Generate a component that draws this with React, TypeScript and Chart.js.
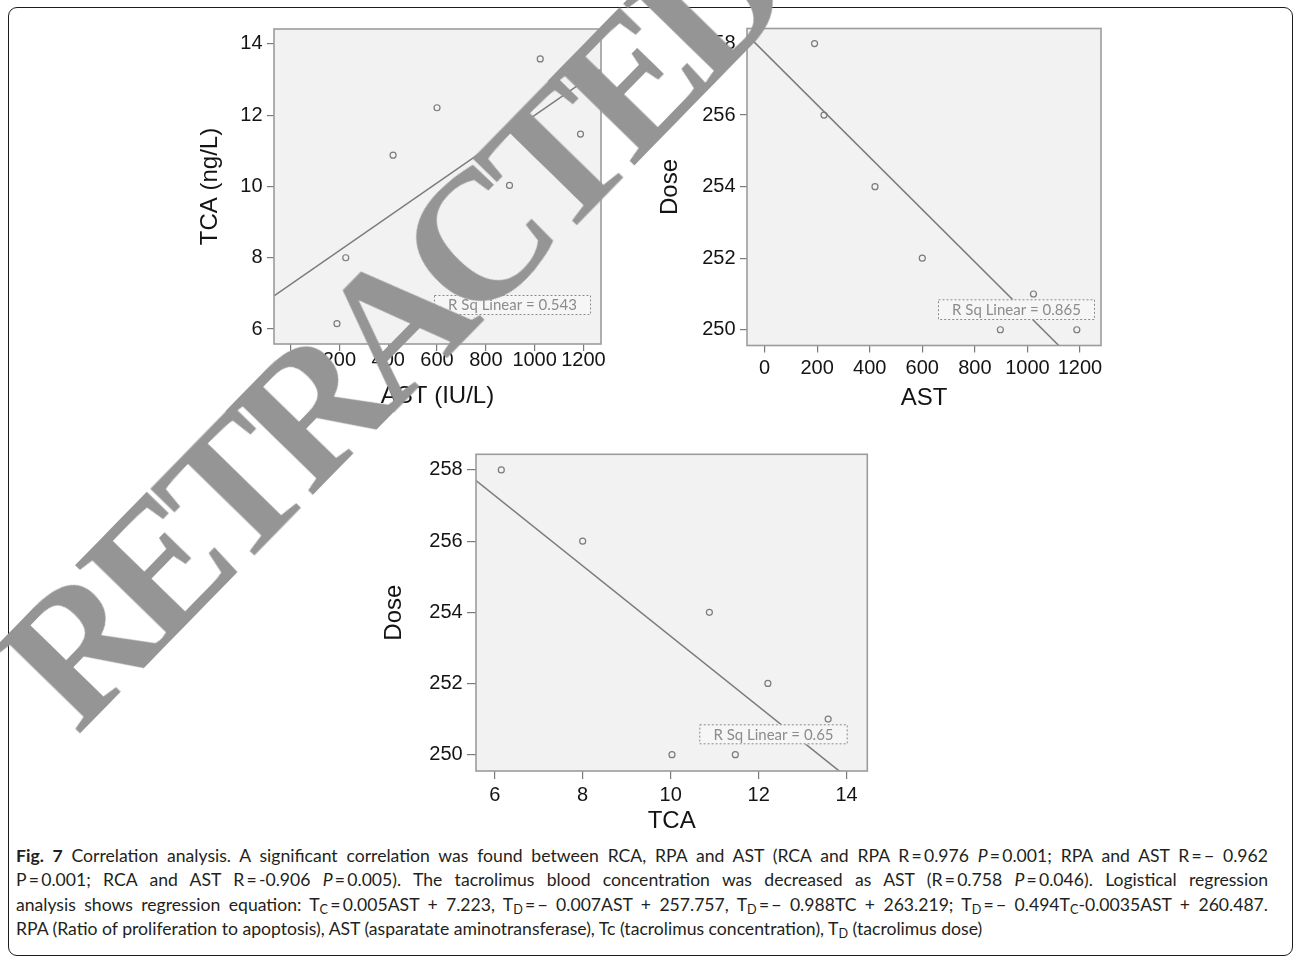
import React, { useEffect, useRef } from "react";
import { Chart, registerables } from "chart.js";

Chart.register(...registerables);

// ---------------- data ----------------
const AST = [190, 226, 420, 600, 897, 1023, 1188];
const TCA = [6.15, 8.0, 10.88, 12.21, 10.03, 13.58, 11.47];
const DOSE = [258, 256, 254, 252, 250, 251, 250];

const AST_TICKS = [0, 200, 400, 600, 800, 1000, 1200];
const TCA_TICKS = [6, 8, 10, 12, 14];
const DOSE_TICKS = [250, 252, 254, 256, 258];

const RSQ_LABELS = ["R Sq Linear = 0.543", "R Sq Linear = 0.865", "R Sq Linear = 0.65"];

// ---------------- styling ----------------
const SANS = '"Liberation Sans", Arial, Helvetica, sans-serif';
const BOX_FONT = 'Lato, "Open Sans", sans-serif';
const PLOT_BG = "#f2f2f2";
const FRAME = "#9c9c9c";
const MARK = "#7b7b7b";
const TEXT = "#141414";
const PAD_T = 20;
const PAD_R = 32;

function leastSquares(xs: number[], ys: number[]) {
  const n = xs.length;
  const mx = xs.reduce((s, v) => s + v, 0) / n;
  const my = ys.reduce((s, v) => s + v, 0) / n;
  let sxy = 0;
  let sxx = 0;
  for (let i = 0; i < n; i++) {
    sxy += (xs[i] - mx) * (ys[i] - my);
    sxx += (xs[i] - mx) * (xs[i] - mx);
  }
  const b = sxy / sxx;
  return { a: my - b * mx, b };
}

type Panel = {
  xs: number[];
  ys: number[];
  xTicks: number[];
  yTicks: number[];
  xMin: number;
  xMax: number;
  yMin: number;
  yMax: number;
  xTitle: string;
  yTitle: string;
  rsq: string;
  area: { l: number; r: number; t: number; b: number };
  yW: number;
  xH: number;
  yTitleCx: number;
  xTitleCy: number;
  yTickLen: number;
  xTickLen: number;
  yTickPad: number;
  xTickPad: number;
  box: { right: number; bottom: number; w: number; h: number };
};

const PANELS: Panel[] = [
  {
    xs: AST, ys: TCA, xTicks: AST_TICKS, yTicks: TCA_TICKS,
    xMin: -68, xMax: 1272, yMin: 5.58, yMax: 14.42,
    xTitle: "AST (IU/L)", yTitle: "TCA (ng/L)", rsq: RSQ_LABELS[0],
    area: { l: 274, r: 601, t: 29, b: 344 },
    yW: 90, xH: 72, yTitleCx: 210, xTitleCy: 396.7,
    yTickLen: 7, xTickLen: 7, yTickPad: 4.5, xTickPad: -3,
    box: { right: 10, bottom: 29, w: 157, h: 20 },
  },
  {
    xs: AST, ys: DOSE, xTicks: AST_TICKS, yTicks: DOSE_TICKS,
    xMin: -67, xMax: 1280, yMin: 249.56, yMax: 258.42,
    xTitle: "AST", yTitle: "Dose", rsq: RSQ_LABELS[1],
    area: { l: 747, r: 1101, t: 28.5, b: 345.5 },
    yW: 95, xH: 72, yTitleCx: 670, xTitleCy: 398,
    yTickLen: 7, xTickLen: 7, yTickPad: 4.5, xTickPad: 3.5,
    box: { right: 6, bottom: 25.5, w: 157, h: 20.7 },
  },
  {
    xs: TCA, ys: DOSE, xTicks: TCA_TICKS, yTicks: DOSE_TICKS,
    xMin: 5.575, xMax: 14.47, yMin: 249.54, yMax: 258.44,
    xTitle: "TCA", yTitle: "Dose", rsq: RSQ_LABELS[2],
    area: { l: 476, r: 867.3, t: 454.3, b: 771 },
    yW: 100, xH: 72, yTitleCx: 394, xTitleCy: 821.7,
    yTickLen: 9, xTickLen: 8, yTickPad: 4.3, xTickPad: 4,
    box: { right: 19.6, bottom: 26.7, w: 148.4, h: 20 },
  },
];

function geom(p: Panel) {
  const ax = p.area.l - p.yW;
  const cl = Math.floor(ax);
  const ct = Math.floor(p.area.t - PAD_T);
  const cr = Math.ceil(p.area.r + PAD_R);
  const cb = Math.ceil(p.area.b + p.xH);
  return {
    left: cl,
    top: ct,
    width: cr - cl,
    height: cb - ct,
    padding: {
      left: ax - cl,
      top: p.area.t - ct,
      right: cr - p.area.r,
      bottom: cb - (p.area.b + p.xH),
    },
  };
}

function ScatterPanel({ p }: { p: Panel }) {
  const ref = useRef<HTMLCanvasElement | null>(null);
  const g = geom(p);

  useEffect(() => {
    const canvas = ref.current;
    if (!canvas) return;
    const fit = leastSquares(p.xs, p.ys);
    const tickFont = { family: SANS, size: 20, lineHeight: 1.2 };
    const titleFont = { family: SANS, size: 24, lineHeight: 1.2 };

    const framePlugin = {
      id: "spssFrame",
      beforeDraw(chart: any) {
        const { ctx, chartArea: a } = chart;
        ctx.save();
        ctx.fillStyle = PLOT_BG;
        ctx.fillRect(a.left, a.top, a.right - a.left, a.bottom - a.top);
        ctx.restore();
      },
      afterDatasetsDraw(chart: any) {
        const { ctx, chartArea: a } = chart;
        ctx.save();
        ctx.strokeStyle = FRAME;
        ctx.lineWidth = 1.6;
        ctx.strokeRect(a.left, a.top, a.right - a.left, a.bottom - a.top);
        const bx = a.right - p.box.right - p.box.w;
        const by = a.bottom - p.box.bottom - p.box.h;
        ctx.fillStyle = "#f6f6f6";
        ctx.fillRect(bx, by, p.box.w, p.box.h);
        ctx.setLineDash([2, 2]);
        ctx.lineWidth = 1;
        ctx.strokeStyle = "#8a8a8a";
        ctx.strokeRect(bx + 0.5, by + 0.5, p.box.w - 1, p.box.h - 1);
        ctx.setLineDash([]);
        ctx.fillStyle = "#8c8c8c";
        ctx.font = `15px ${BOX_FONT}`;
        ctx.textAlign = "center";
        ctx.textBaseline = "middle";
        ctx.fillText(p.rsq, bx + p.box.w / 2, by + p.box.h / 2 + 0.5);
        ctx.restore();
      },
    };

    const chart = new Chart(canvas, {
      type: "scatter",
      data: {
        datasets: [
          {
            data: p.xs.map((x, i) => ({ x, y: p.ys[i] })),
            pointRadius: 3,
            pointBorderWidth: 1.2,
            pointBorderColor: MARK,
            pointBackgroundColor: "rgba(0,0,0,0)",
            showLine: false,
          },
          {
            data: [
              { x: p.xMin, y: fit.a + fit.b * p.xMin },
              { x: p.xMax, y: fit.a + fit.b * p.xMax },
            ],
            showLine: true,
            pointRadius: 0,
            borderColor: MARK,
            borderWidth: 1.5,
            fill: false,
          },
        ],
      },
      options: {
        responsive: false,
        maintainAspectRatio: false,
        animation: false,
        devicePixelRatio: 1,
        events: [],
        layout: { padding: g.padding },
        plugins: { legend: { display: false }, tooltip: { enabled: false } },
        scales: {
          x: {
            type: "linear",
            position: "bottom",
            min: p.xMin,
            max: p.xMax,
            afterBuildTicks: (s: any) => {
              s.ticks = p.xTicks.map((v) => ({ value: v }));
            },
            afterFit: (s: any) => {
              s.height = p.xH;
            },
            grid: {
              display: true,
              drawOnChartArea: false,
              drawTicks: true,
              tickLength: p.xTickLen,
              color: "#7a7a7a",
              lineWidth: 1.2,
            },
            border: { display: false },
            ticks: {
              font: tickFont,
              color: TEXT,
              padding: p.xTickPad,
              maxRotation: 0,
              minRotation: 0,
              autoSkip: false,
              callback: (v: any) => String(v),
            },
            title: {
              display: true,
              text: p.xTitle,
              font: titleFont,
              color: TEXT,
              padding: { top: 0, bottom: p.area.b + p.xH - p.xTitleCy - 14.4 },
            },
          },
          y: {
            type: "linear",
            position: "left",
            min: p.yMin,
            max: p.yMax,
            afterBuildTicks: (s: any) => {
              s.ticks = p.yTicks.map((v) => ({ value: v }));
            },
            afterFit: (s: any) => {
              s.width = p.yW;
            },
            grid: {
              display: true,
              drawOnChartArea: false,
              drawTicks: true,
              tickLength: p.yTickLen,
              color: "#7a7a7a",
              lineWidth: 1.2,
            },
            border: { display: false },
            ticks: {
              font: tickFont,
              color: TEXT,
              padding: p.yTickPad,
              autoSkip: false,
              callback: (v: any) => String(v),
            },
            title: {
              display: true,
              text: p.yTitle,
              font: titleFont,
              color: TEXT,
              padding: { top: p.yTitleCx - (p.area.l - p.yW) - 14.4, bottom: 0 },
            },
          },
        },
      },
      plugins: [framePlugin],
    } as any);
    return () => chart.destroy();
  }, []);

  return (
    <canvas
      ref={ref}
      width={g.width}
      height={g.height}
      style={{ position: "absolute", left: g.left, top: g.top, width: g.width, height: g.height }}
    />
  );
}

const CAPTION_FONT = 'Lato, "Noto Sans", sans-serif';
const MINUS = "\u2212";
const TS = "\u2009";

export default function App() {
  const lineStyle: React.CSSProperties = {
    textAlign: "justify",
    textAlignLast: "justify",
    height: 24.5,
    whiteSpace: "normal",
  };
  const sub: React.CSSProperties = { fontSize: "0.72em", verticalAlign: "-0.25em", lineHeight: 0 };
  return (
    <div
      style={{
        position: "absolute",
        left: 0,
        top: 0,
        width: 1295,
        height: 960,
        overflow: "hidden",
        background: "#ffffff",
      }}
    >
      <div
        style={{
          position: "absolute",
          left: 8,
          top: 7,
          width: 1285,
          height: 949,
          boxSizing: "border-box",
          border: "1.6px solid #1c1c1c",
          borderRadius: 9,
        }}
      />
      {PANELS.map((p, i) => (
        <ScatterPanel key={i} p={p} />
      ))}
      <div
        style={{
          position: "absolute",
          left: 16,
          top: 843.5,
          width: 1252,
          fontFamily: CAPTION_FONT,
          fontSize: 17.6,
          lineHeight: "24.5px",
          color: "#231f20",
        }}
      >
        <div style={lineStyle}>
          <b>Fig. 7</b> Correlation analysis. A significant correlation was found between RCA, RPA and AST (RCA and
          RPA R{TS}={TS}0.976 <i>P</i>{TS}={TS}0.001; RPA and AST R{TS}={TS}{MINUS} 0.962
        </div>
        <div style={lineStyle}>
          P{TS}={TS}0.001; RCA and AST R{TS}={TS}-0.906 <i>P</i>{TS}={TS}0.005). The tacrolimus blood concentration was
          decreased as AST (R{TS}={TS}0.758 <i>P</i>{TS}={TS}0.046). Logistical regression
        </div>
        <div style={lineStyle}>
          analysis shows regression equation: T<span style={sub}>C</span>{TS}={TS}0.005AST + 7.223, T
          <span style={sub}>D</span>{TS}={TS}{MINUS} 0.007AST + 257.757, T<span style={sub}>D</span>
          {TS}={TS}{MINUS} 0.988TC + 263.219; T<span style={sub}>D</span>{TS}={TS}{MINUS} 0.494T
          <span style={sub}>C</span>-0.0035AST + 260.487.
        </div>
        <div style={{ height: 24.5 }}>
          RPA (Ratio of proliferation to apoptosis), AST (asparatate aminotransferase), Tc (tacrolimus concentration), T
          <span style={sub}>D</span> (tacrolimus dose)
        </div>
      </div>
      <div
        style={{
          position: "absolute",
          left: 389,
          top: 328,
          transform: "translate(-50%, -50%) rotate(-45.7deg)",
          fontFamily: '"Liberation Serif", "DejaVu Serif", "Times New Roman", serif',
          fontWeight: 700,
          fontSize: 184,
          letterSpacing: -15,
          lineHeight: 1,
          color: "#959595",
          whiteSpace: "nowrap",
          zIndex: 10,
          pointerEvents: "none",
        }}
      >
        RETRACTED
      </div>
    </div>
  );
}
